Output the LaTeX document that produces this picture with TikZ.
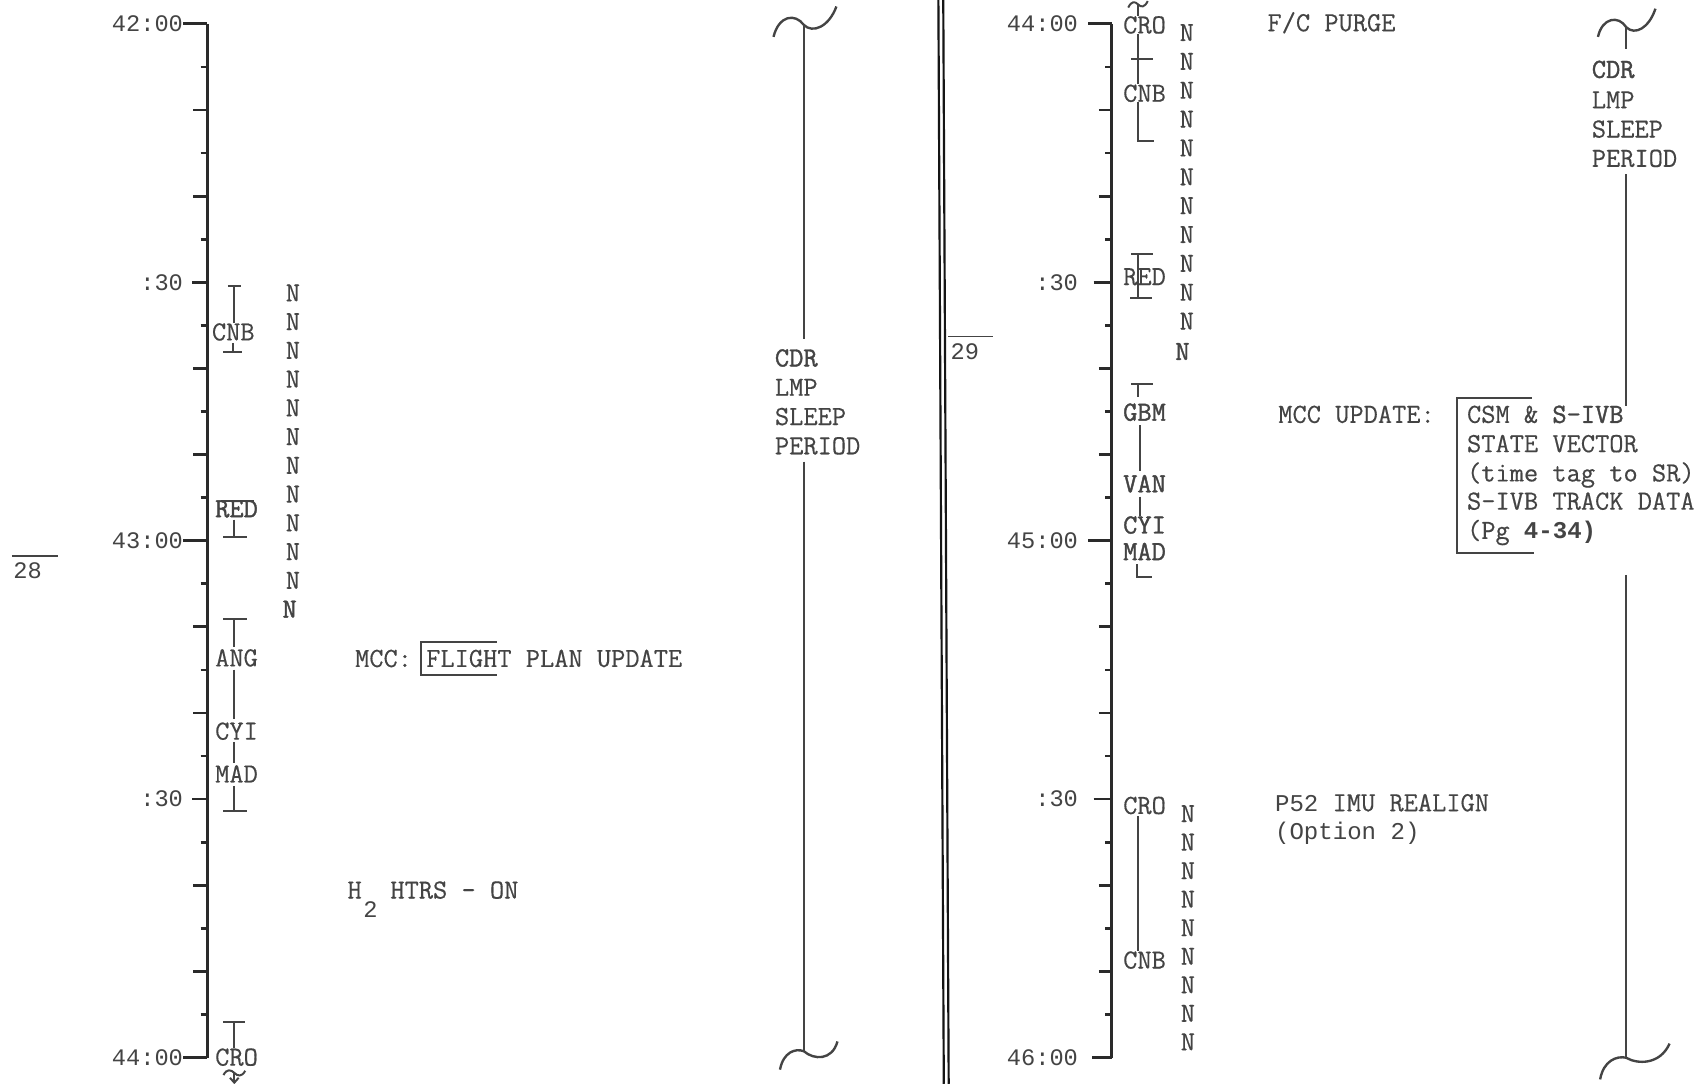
\documentclass[tikz,border=0pt]{standalone}
\usepackage{fontspec}
\newfontfamily\lblfont{Liberation Mono}
\newfontfamily\tw[FakeBold=0.4]{Latin Modern Mono}
\newfontfamily\twb[FakeBold=1.4]{Latin Modern Mono}
\definecolor{ink}{HTML}{444444}
\definecolor{axc}{HTML}{2A2A2A}
\definecolor{divc}{HTML}{151515}
\tikzset{
  txt/.style={font=\fontsize{14}{16}\selectfont\tw, text=ink, inner sep=0pt, anchor=west, text height=8.55pt, text depth=0pt},
  btxt/.style={txt, font=\fontsize{14}{16}\selectfont\twb},
  nmark/.style={txt, anchor=center},
  bnmark/.style={btxt, anchor=center},
  tlab/.style={font=\fontsize{12}{14}\selectfont\lblfont, text=ink, inner sep=0pt, anchor=east, text height=7.9pt, text depth=0pt},
  axisline/.style={draw=axc, line width=1.5pt},
  tickline/.style={draw=axc, line width=1.4pt},
  mk/.style={draw=ink, line width=1pt},
  brk/.style={draw=ink, line width=1.2pt},
  sleepline/.style={draw=ink, line width=1.2pt},
  divline/.style={draw=divc, line width=1.1pt},
  thinl/.style={draw=ink, line width=0.8pt},
}
\begin{document}
\begin{tikzpicture}[x=0.55pt,y=-0.55pt]
\useasboundingbox (0,0) rectangle (1568,999);
\fill[white] (0,0) rectangle (1568,999);

% ===== LEFT AXIS =====
\coordinate (LT) at (191,22);
\coordinate (LB) at (191,974.8);
\draw[axisline] (LT) -- (LB);
\node[tlab] (L42) at (169,22) {42:00};
\node[tlab] (L4230) at (169,260.2) {:30};
\node[tlab] (L43) at (169,498.4) {43:00};
\node[tlab] (L4330) at (169,736.6) {:30};
\node[tlab] (L44) at (169,974.8) {44:00};
\draw[tickline] (L42.east) -- (LT);
\draw[tickline] (L43.east) -- (L43.east -| LT);
\draw[tickline] (L44.east) -- (LB);
\draw[tickline] ([xshift=4.4pt]L4230.east) -- (L4230.east -| LT);
\draw[tickline] ([xshift=4.4pt]L4330.east) -- (L4330.east -| LT);
\foreach \k in {2,4,8,10,14,16,20,22}
  \draw[tickline] (178,{22+39.7*\k}) -- (191,{22+39.7*\k});
\foreach \k in {1,3,...,23}
  \draw[tickline] (185,{22+39.7*\k}) -- (191,{22+39.7*\k});

% ===== RIGHT AXIS =====
\coordinate (RT) at (1025,22);
\coordinate (RB) at (1025,974.8);
\draw[axisline] (RT) -- (RB);
\node[tlab] (R44) at (994,22) {44:00};
\node[tlab] (R4430) at (994,260.2) {:30};
\node[tlab] (R45) at (994,498.4) {45:00};
\node[tlab] (R4530) at (994,736.6) {:30};
\node[tlab] (R46) at (994,974.8) {46:00};
\draw[tickline] ([xshift=5pt]R44.east) -- (RT);
\draw[tickline] ([xshift=5pt]R45.east) -- (R45.east -| RT);
\draw[tickline] ([xshift=7pt]R46.east) -- (RB);
\draw[tickline] ([xshift=7.7pt]R4430.east) -- (R4430.east -| RT);
\draw[tickline] ([xshift=7.7pt]R4530.east) -- (R4530.east -| RT);
\foreach \k in {2,4,8,10,14,16,20,22}
  \draw[tickline] (1013,{22+39.7*\k}) -- (1025,{22+39.7*\k});
\foreach \k in {1,3,...,23}
  \draw[tickline] (1019,{22+39.7*\k}) -- (1025,{22+39.7*\k});

% ===== PAGE NUMBERS =====
\node[tlab, anchor=west] (pg28) at (12,526) {28};
\draw[thinl] (11,512.5) -- (53.5,512.5);
\node[tlab, anchor=west] (pg29) at (876,324.5) {29};
\draw[thinl] (874,310) -- (915,310);

% ===== DIVIDER =====
\draw[divline] (865,0) -- (870,999);
\draw[divline] (869.5,0) -- (874.5,999);

% ===== LEFT MARKERS =====
% CNB
\node[txt] (cnbL) at (195,306) {CNB};
\coordinate (cnbLt) at (216,264);
\coordinate (cnbLb) at (215,324.5);
\draw[mk] (210,264) -- (222,264);
\draw[mk] (cnbLt) -- (cnbLt |- cnbL.north);
\draw[mk, shorten <=1pt] (cnbL.south -| cnbLb) -- (cnbLb);
\draw[mk] (206,324.5) -- (223,324.5);
% RED
\node[btxt] (redL) at (198,469) {RED};
\coordinate (redLb) at (216,495);
\draw[mk] (204,461.5) -- (234,461.5);
\draw[mk, shorten <=1pt] (redL.south -| redLb) -- (redLb);
\draw[mk] (206,495) -- (228,495);
% ANG / CYI / MAD
\coordinate (angT) at (216,571);
\coordinate (madB) at (216,747.5);
\node[txt] (angL) at (198,606.5) {ANG};
\node[txt] (cyiL) at (198,674) {CYI};
\node[txt] (madL) at (198,713.5) {MAD};
\draw[mk] (206,571) -- (228,571);
\draw[mk, shorten >=1pt] (angT) -- (angT |- angL.north);
\draw[mk, shorten <=1.5pt, shorten >=1.5pt] (angL.south -| angT) -- (cyiL.north -| angT);
\draw[mk, shorten <=1pt, shorten >=1pt] (cyiL.south -| angT) -- (madL.north -| angT);
\draw[mk, shorten <=1.5pt] (madL.south -| madB) -- (madB);
\draw[mk] (206,747.5) -- (228,747.5);
% CRO
\coordinate (croLt) at (216,942);
\coordinate (croLw) at (216,989);
\node[txt] (croL) at (198,974.5) {CRO};
\draw[mk] (206,942) -- (226,942);
\draw[mk] (croLt) -- (croLt |- croL.north);
\draw[mk] (206,991) .. controls (209,985) and (213,986) .. (croLw) .. controls (219,992) and (223,993) .. (226,987);
\draw[mk] (croLw) -- (216,998);
\draw[mk] (212,993.5) -- (216,998) -- (220,993.5);

% left N column
\foreach \k in {0,...,10}
  \node[nmark] (nL\k) at (270,{270+26.5*\k}) {N};
\node[bnmark] (nL11) at (267,561.5) {N};

% left texts
\node[txt] (mccL) at (327,607) {MCC: FLIGHT PLAN UPDATE};
\draw[brk] (458,592) -- (388,592) -- (388,622) -- (458,622);
\node[txt] (h2H) at (320,820.5) {H};
\node[tlab, anchor=west] (h2s) at (334.6,839) {2};
\node[txt] (htrs) at (359.5,820.5) {HTRS - ON};

% left sleep bracket
\coordinate (sLtop) at (741,23);
\coordinate (sLbot) at (741,969);
\node[btxt] (sCDRL) at (714,330) {CDR};
\node[txt] (sLMPL) at (714,357) {LMP};
\node[txt] (sSLPL) at (714,384) {SLEEP};
\node[txt] (sPERL) at (714,411) {PERIOD};
\draw[sleepline] (713,34) .. controls (718,14) and (733,12) .. (sLtop) .. controls (749,31) and (764,25) .. (771,6);
\draw[sleepline, shorten >=5pt] (sLtop) -- (sLtop |- sCDRL.north);
\draw[sleepline, shorten <=3.5pt] (sPERL.south -| sLbot) -- (sLbot);
\draw[sleepline] (719,986) .. controls (722,970) and (733,966) .. (sLbot) .. controls (750,977) and (767,978) .. (772,960);

% ===== RIGHT MARKERS =====
% CRO - CNB top
\coordinate (cr1) at (1049,4);
\coordinate (cnbRb) at (1049,130);
\node[txt] (croR1) at (1035,23) {CRO};
\node[txt] (cnbR1) at (1035,86) {CNB};
\draw[mk] (1040,7) .. controls (1043,1) and (1046,1) .. (cr1) .. controls (1052,7) and (1055,7) .. (1058,1);
\draw[mk] (cr1) -- (cr1 |- croR1.north);
\draw[mk] (croR1.south -| cnbRb) -- (cnbR1.north -| cnbRb);
\draw[mk] (1043,54.4) -- (1063,54.4);
\draw[mk] (cnbR1.south -| cnbRb) -- (cnbRb) -- (1064,130);
% RED
\coordinate (redRt) at (1049,234);
\coordinate (redRb) at (1049,275);
\draw[mk] (1043,234) -- (1063,234);
\draw[mk] (redRt) -- (redRb);
\draw[mk] (1042,275) -- (1062,275);
\node[txt] (redR) at (1035,255) {RED};
% right N column top
\foreach \k in {0,...,10}
  \node[nmark] (nR\k) at (1094,{30+26.6*\k}) {N};
\node[bnmark] (nR11) at (1090,324) {N};
% GBM / VAN / CYI / MAD
\coordinate (gbmT) at (1049,354);
\coordinate (gv) at (1051,400);
\coordinate (madRb) at (1048,532);
\node[btxt] (gbmR) at (1035,380) {GBM};
\node[btxt] (vanR) at (1035,446) {VAN};
\node[btxt] (cyiR) at (1035,484) {CYI};
\node[btxt] (madR) at (1035,508.5) {MAD};
\draw[mk] (1043,354) -- (1063,354);
\draw[mk, shorten >=3pt] (gbmT) -- (gbmT |- gbmR.north);
\draw[mk, shorten <=2pt, shorten >=2pt] (gbmR.south -| gv) -- (vanR.north -| gv);
\draw[mk, shorten <=2pt] (vanR.south -| gv) -- (cyiR.north -| gv);
\draw[mk, shorten <=2pt] (madR.south -| madRb) -- (madRb) -- (1062,532);
% CRO - CNB bottom
\coordinate (cc) at (1049,800);
\node[txt] (croR2) at (1035,742.5) {CRO};
\node[txt] (cnbR2) at (1035,885) {CNB};
\draw[mk, shorten <=1pt] (croR2.south -| cc) -- (cnbR2.north -| cc);
\foreach \k in {0,...,8}
  \node[nmark] (nRb\k) at (1095,{750+26.3*\k}) {N};

% right texts
\node[txt] (fcp) at (1168,21) {F/C PURGE};
\node[txt] (mccu) at (1178,382) {MCC UPDATE:};
\node[txt] (bx1) at (1352,382) {CSM \& {\twb S-IVB}};
\node[txt] (bx2) at (1352,409) {STATE VECTOR};
\node[txt] (bx3) at (1352,436) {(time tag to SR)};
\node[txt] (bx4) at (1352,462) {S-IVB TRACK DATA};
\node[txt] (bx5) at (1352,489) {(Pg {\fontsize{12.2}{14}\selectfont\lblfont\bfseries 4-34)}};
\draw[brk] (1412,367) -- (1343,367) -- (1343,510) -- (1414,510);
\node[txt] (p52) at (1175,740) {{\fontsize{12.2}{14}\selectfont\lblfont P52} IMU REALIGN};
\node[txt, font=\fontsize{12.2}{14}\selectfont\lblfont] (opt) at (1175,766) {(Option 2)};

% right sleep bracket
\coordinate (sRtop) at (1499,25);
\coordinate (sRmid) at (1499,530);
\coordinate (sRbot) at (1499,975);
\node[btxt] (sCDRR) at (1467,64) {CDR};
\node[txt] (sLMPR) at (1467,92) {LMP};
\node[txt] (sSLPR) at (1467,119) {SLEEP};
\node[txt] (sPERR) at (1467,146) {PERIOD};
\draw[sleepline] (1473,34) .. controls (1477,16) and (1492,14) .. (sRtop) .. controls (1507,33) and (1520,26) .. (1526,8);
\draw[sleepline, shorten >=6pt] (sRtop) -- (sRtop |- sCDRR.north);
\draw[sleepline, shorten <=3.5pt] (sPERR.south -| sRtop) -- (sRtop |- bx1.north);
\draw[sleepline] (sRmid) -- (sRbot);
\draw[sleepline] (1475,995) .. controls (1478,978) and (1490,973) .. (sRbot) .. controls (1509,981) and (1530,982) .. (1539,962);
\end{tikzpicture}
\end{document}
